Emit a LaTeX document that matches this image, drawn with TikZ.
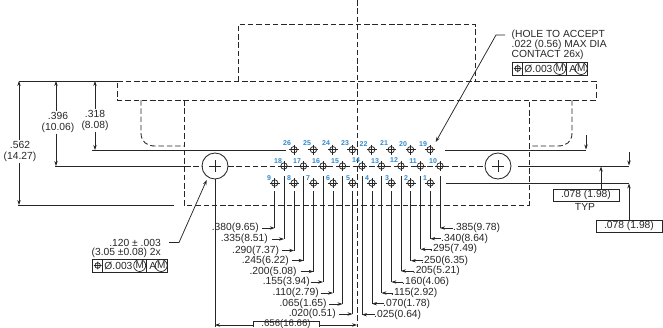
\documentclass[tikz,border=0pt]{standalone}
\usepackage{fontspec}
\setmainfont{Liberation Sans}
\usetikzlibrary{arrows.meta}
\definecolor{ink}{gray}{0.15}
\definecolor{pinblue}{HTML}{2F88CC}
\tikzset{
  dash line/.style={draw=ink,line width=0.85pt,dash pattern=on 5.5pt off 2.8pt},
  solid line/.style={draw=ink,line width=0.85pt},
  thin line/.style={draw=ink,line width=0.75pt},
  dim arrow/.style={thin line,-{Stealth[length=5pt,width=3.4pt]}},
  label text/.style={inner sep=0pt,text=ink,font=\fontsize{10.3}{11}\selectfont,align=center},
  pin label/.style={inner sep=0pt,text=pinblue,font=\fontsize{7}{7}\selectfont\bfseries},
  value box/.style={draw=ink,line width=0.85pt,minimum width=66pt,minimum height=12.5pt,inner sep=0pt,text=ink,font=\fontsize{10.3}{11}\selectfont},
  pinmark/.pic={
    \draw[thin line] (0,0) circle (3.2pt);
    \draw[thin line] (-5,0) -- (5,0) (0,-5) -- (0,5);
  },
  fcf/.pic={
    \draw[solid line] (0,0) rectangle (75,13);
    \draw[solid line] (10,0) -- (10,13) (54,0) -- (54,13);
    \draw[thin line] (5,6.5) circle (2.8pt) (1.2,6.5) -- (8.8,6.5) (5,2.7) -- (5,10.3);
    \node[label text,anchor=west] (dia) at (11.5,6.5) {Ø.003};
    \node[draw=ink,circle,line width=0.7pt,inner sep=0pt,minimum size=12pt,text=ink,font=\fontsize{10}{10}\selectfont] (m1) at (47,6.5) {M};
    \node[label text] (a) at (60,6.5) {A};
    \node[draw=ink,circle,line width=0.7pt,inner sep=0pt,minimum size=12pt,text=ink,font=\fontsize{10}{10}\selectfont] (m2) at (68.5,6.5) {M};
  }
}
\begin{document}
\begin{tikzpicture}[x=1pt,y=-1pt]
\useasboundingbox (0,0) rectangle (663,327);
% named points
\coordinate (ctop) at (357,0); \coordinate (cbot) at (357,327);
% dashed body
\draw[dash line] (ctop) -- (cbot);
\draw[dash line] (238.5,81) -- (238.5,24) -- (475,24) -- (475,81);
\draw[dash line] (117.5,81) -- (596,81) -- (596,100) -- (117.5,100) -- cycle;
\draw[dash line] (184,100) -- (184,205) -- (529,205) -- (529,100);
\draw[dash line] (141,100) -- (141,133) .. controls (141,142) and (147,146) .. (155,146) -- (184,146);
\draw[dash line] (572,100) -- (572,133) .. controls (572,142) and (566,146) .. (558,146) -- (529,146);
\draw[dash line] (185,166) -- (202,166) (228,166) -- (485,166);
% solid extension lines
\draw[solid line] (19,81) -- (117.5,81);
\draw[solid line] (92,150) -- (286,150);
\draw[solid line] (445,150) -- (586,150);
\draw[solid line] (55,166) -- (185,166);
\draw[solid line] (518,166) -- (629,166);
\draw[solid line] (446,183) -- (629,183);
\draw[solid line] (18,205) -- (174,205);
% big holes
\node[draw=ink,circle,line width=0.85pt,minimum size=26pt,inner sep=0pt] (holeL) at (215,166) {};
\node[draw=ink,circle,line width=0.85pt,minimum size=26pt,inner sep=0pt] (holeR) at (498,166) {};
\draw[thin line] (209,166) -- (221,166) (215,160) -- (215,172);
\draw[thin line] (492,166) -- (504,166) (498,160) -- (498,172);
% pins
\foreach \n [count=\i from 0] in {26,25,24,23,22,21,20,19} {
  \pgfmathsetmacro{\px}{294+19.43*\i}
  \coordinate (p\n) at (\px,149.7);
  \pic at (p\n) {pinmark};
}
\foreach \n [count=\i from 0] in {18,17,16,15,14,13,12,11,10} {
  \pgfmathsetmacro{\px}{284+19.5*\i}
  \coordinate (p\n) at (\px,166);
  \pic at (p\n) {pinmark};
}
\foreach \n [count=\i from 0] in {9,8,7,6,5,4,3,2,1} {
  \pgfmathsetmacro{\px}{274.7+19.45*\i}
  \coordinate (p\n) at (\px,183);
  \pic at (p\n) {pinmark};
}
% pin numbers
\foreach \n/\x/\y in {26/287/143,25/307/143,24/326/143,23/345/143,22/363.5/144,21/384/143,20/403/144,19/423/144,
  18/278/161,17/297/161,16/316/161,15/335/161,14/356/160.5,13/375/161,12/394/160.5,11/413/161,10/433/161,
  9/269/178,8/289/178,7/308/178,6/328/178,5/348/178,4/367/178,3/387/178,2/406/178,1/425/178} {
  \node[pin label] (n\n) at (\x,\y) {\n};
}
% left dimension group
\foreach \n/\y/\tail/\rgt/\txt/\off in {
  9/228/262/259/.380(9.65)/8,
  18/239/272/268/.335(8.51)/10,
  8/250.5/281.7/279.3/.290(7.37)/8,
  17/260.5/291.7/289/.245(6.22)/10,
  7/271.5/300.7/296.7/.200(5.08)/8,
  16/282/310.7/310/.155(3.94)/10,
  6/293/320.7/319/.110(2.79)/8,
  15/304/329/326.7/.065(1.65)/10,
  5/314/339/336/.020(0.51)/8} {
  \node[label text,anchor=east] (lab\n) at (\rgt,\y) {\txt};
  \coordinate (d\n) at (\tail,\y);
  \draw[solid line] (p\n) ++(0,\off) -- (p\n |- d\n);
  \draw[dim arrow] (d\n) -- (p\n |- d\n);
}
% right dimension group
\foreach \n/\y/\tail/\lft/\txt/\off in {
  10/228/452.7/453/.385(9.78)/10,
  1/238.7/441/441/.340(8.64)/8,
  11/249.3/432/430/.295(7.49)/10,
  2/260.7/423/421/.250(6.35)/8,
  12/271/414/412.7/.205(5.21)/10,
  3/282/403/402/.160(4.06)/8,
  13/293/393/391/.115(2.92)/10,
  4/303.7/384/383/.070(1.78)/8,
  14/314.7/375/374/.025(0.64)/10} {
  \node[label text,anchor=west] (lab\n) at (\lft,\y) {\txt};
  \coordinate (d\n) at (\tail,\y);
  \draw[solid line] (p\n) ++(0,\off) -- (p\n |- d\n);
  \draw[dim arrow] (d\n) -- (p\n |- d\n);
}
% vertical dimensions, left
\node[label text] (d562) at (20,151.5) {.562\\[-0.6pt](14.27)};
\node[label text] (d396) at (58,122.5) {.396\\[-0.6pt](10.06)};
\node[label text] (d318) at (95,120.5) {.318\\[-0.6pt](8.08)};
\coordinate (a1) at (19,81); \coordinate (a2) at (19,205);
\coordinate (b1) at (56,81); \coordinate (b2) at (56,166);
\coordinate (c1) at (95,81); \coordinate (c2) at (95,150);
\draw[dim arrow] (a1 |- d562.north) ++(0,-1) -- (a1);
\draw[dim arrow] (a1 |- d562.south) ++(0,1) -- (a2);
\draw[dim arrow] (b1 |- d396.north) ++(0,-1) -- (b1);
\draw[dim arrow] (b1 |- d396.south) ++(0,1) -- (b2);
\draw[dim arrow] (c1 |- d318.north) ++(0,-1) -- (c1);
\draw[dim arrow] (c1 |- d318.south) ++(0,1) -- (c2);
% right dimensions
\node[value box] (box1) at (586,195.2) {.078 (1.98)};
\node[value box] (box2) at (629,226.2) {.078 (1.98)};
\node[label text] (typ) at (585,207) {TYP};
\coordinate (e1) at (586,135); \coordinate (e2) at (586,149.5);
\coordinate (f1) at (629,152); \coordinate (f2) at (629,165.5);
\coordinate (g1) at (601,166.5); \coordinate (h1) at (629,183.5);
\draw[dim arrow] (e1) -- (e2);
\draw[dim arrow] (f1) -- (f2);
\draw[dim arrow] (g1 |- box1.north) -- (g1);
\draw[dim arrow] (h1 |- box2.north) -- (h1);
% bottom dimension
\coordinate (k1) at (215,325); \coordinate (k2) at (357,325);
\draw[solid line] (holeL.south) -- (215,327);
\draw[dim arrow] (253,325) -- (k1);
\draw[dim arrow] (319,325) -- (k2);
\draw[solid line] (253,327) -- (253,321) -- (319,321) -- (319,327);
\node[inner sep=0pt,text=ink,font=\fontsize{9.6}{10}\selectfont,anchor=center] (box3) at (286,323.9) {.656(16.66)};
% callout top right
\node[label text,align=left,anchor=north west] (note1) at (511.5,29.5) {(HOLE TO ACCEPT\\[-0.8pt].022 (0.56) MAX DIA\\[-0.8pt]CONTACT 26x)};
\pic (fa) at (512.7,62) {fcf};
\coordinate (t1) at (505,35); \coordinate (t2) at (496,35); \coordinate (t3) at (435.7,142);
\draw[dim arrow] (t1) -- (t2) -- (t3);
% callout left
\node[label text,anchor=east] (note2) at (161,242.7) {.120 ± .003};
\node[label text,anchor=east] (note3) at (161,253.3) {(3.05 ±0.08) 2x};
\pic (fb) at (92.7,259) {fcf};
\coordinate (u1) at (169,242.5); \coordinate (u2) at (179,242.5); \coordinate (u3) at (206.7,180);
\draw[dim arrow] (u1) -- (u2) -- (u3);
\end{tikzpicture}
\end{document}
